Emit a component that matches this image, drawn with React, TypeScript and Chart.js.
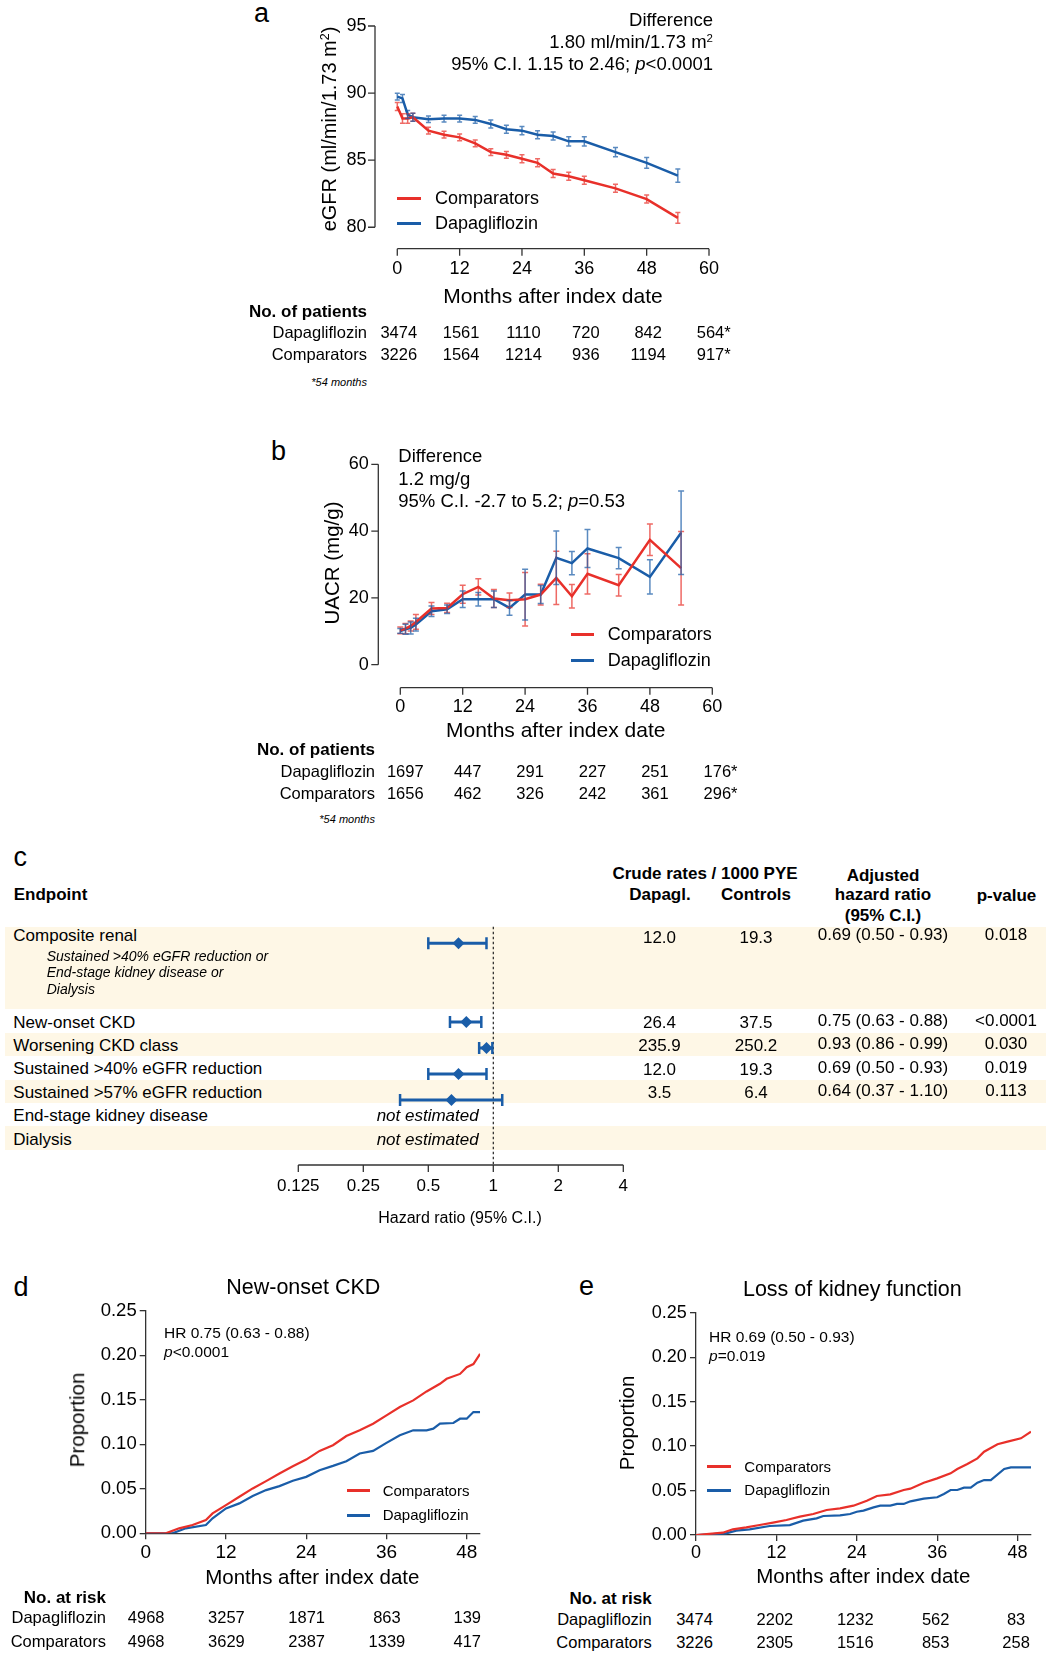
import React, { useEffect, useRef } from 'react';
import { Chart, registerables } from 'chart.js';

Chart.register(...registerables);

// ---------------- data ----------------
// Panel a: eGFR over time
const egfrMonths = [0, 1, 2, 3, 6, 9, 12, 15, 18, 21, 24, 27, 30, 33, 36, 42, 48, 54];
const egfrComparators = [89.0, 88.1, 88.1, 88.2, 87.2, 86.9, 86.7, 86.25, 85.6, 85.4, 85.1, 84.8, 84.0, 83.8, 83.5, 82.9, 82.1, 80.7];
const egfrComparatorsErr = [0.3, 0.35, 0.35, 0.3, 0.25, 0.25, 0.25, 0.25, 0.25, 0.25, 0.3, 0.3, 0.3, 0.3, 0.3, 0.3, 0.3, 0.4];
const egfrDapagliflozin = [89.74, 89.6, 88.4, 88.2, 88.05, 88.1, 88.1, 88.0, 87.7, 87.3, 87.2, 86.9, 86.8, 86.4, 86.4, 85.6, 84.8, 83.85];
const egfrDapagliflozinErr = [0.25, 0.3, 0.3, 0.3, 0.25, 0.25, 0.25, 0.25, 0.3, 0.3, 0.3, 0.3, 0.3, 0.35, 0.35, 0.35, 0.4, 0.5];
const egfrXTicks = [0, 12, 24, 36, 48, 60];
const egfrYTicks = [80, 85, 90, 95];
const egfrPatientsDapa = ['3474', '1561', '1110', '720', '842', '564'];
const egfrPatientsComp = ['3226', '1564', '1214', '936', '1194', '917'];

// Panel b: UACR over time
const uacrMonths = [0, 1, 2, 3, 6, 9, 12, 15, 18, 21, 24, 27, 30, 33, 36, 42, 48, 54];
const uacrComparators = [10.3, 10.8, 11.6, 12.8, 16.8, 17.0, 21.1, 23.3, 19.8, 19.3, 19.6, 21.0, 26.0, 20.5, 27.2, 23.8, 37.4, 28.9];
const uacrComparatorsErr = [1.0, 1.5, 1.5, 2.2, 1.8, 1.4, 2.7, 2.4, 2.7, 2.2, 8.0, 3.1, 8.0, 3.5, 6.0, 3.2, 4.7, 11.0];
const uacrDapagliflozin = [10.1, 10.6, 11.0, 12.0, 16.0, 16.6, 19.6, 19.6, 19.6, 17.0, 21.0, 21.0, 32.0, 30.4, 34.8, 31.9, 26.3, 39.5];
const uacrDapagliflozinErr = [0.7, 1.5, 1.8, 1.9, 1.6, 1.3, 2.5, 2.0, 2.5, 2.2, 7.6, 2.7, 8.0, 3.5, 5.7, 3.2, 5.1, 12.5];
const uacrXTicks = [0, 12, 24, 36, 48, 60];
const uacrYTicks = [0, 20, 40, 60];
const uacrPatientsDapa = ['1697', '447', '291', '227', '251', '176'];
const uacrPatientsComp = ['1656', '462', '326', '242', '361', '296'];

// Panel c: forest plot
const endpoints = [
  'Composite renal',
  'New-onset CKD',
  'Worsening CKD class',
  'Sustained >40% eGFR reduction',
  'Sustained >57% eGFR reduction',
  'End-stage kidney disease',
  'Dialysis',
];
const compositeDetail = ['Sustained >40% eGFR reduction or', 'End-stage kidney disease or', 'Dialysis'];
const hrPoint: (number | null)[] = [0.69, 0.75, 0.93, 0.69, 0.64, null, null];
const hrLow: (number | null)[] = [0.5, 0.63, 0.86, 0.5, 0.37, null, null];
const hrHigh: (number | null)[] = [0.93, 0.88, 0.99, 0.93, 1.1, null, null];
const rateDapagl: (number | null)[] = [12.0, 26.4, 235.9, 12.0, 3.5, null, null];
const rateControls: (number | null)[] = [19.3, 37.5, 250.2, 19.3, 6.4, null, null];
const pValues = ['0.018', '<0.0001', '0.030', '0.019', '0.113', '', ''];
const hrTicks = [0.125, 0.25, 0.5, 1, 2, 4];

// Panel d: new-onset CKD cumulative incidence
const newOnsetCompMonths = [0, 3, 5, 7, 9, 10, 12, 14, 16, 18, 20, 22, 24, 26, 28, 30, 32, 34, 36, 38, 40, 42, 44, 45, 47, 48, 49, 50];
const newOnsetCompValues = [0, 0, 0.0056, 0.0093, 0.015, 0.0224, 0.0317, 0.041, 0.0504, 0.0586, 0.0672, 0.0754, 0.0828, 0.0925, 0.0989, 0.1093, 0.1157, 0.1231, 0.1325, 0.1418, 0.1493, 0.1593, 0.1679, 0.1735, 0.179, 0.1866, 0.19, 0.2015];
const newOnsetDapaMonths = [0, 4, 6, 9, 10, 12, 14, 16, 18, 20, 22, 24, 26, 28, 30, 32, 34, 36, 38, 40, 42, 43, 44, 46, 47, 48, 49, 50];
const newOnsetDapaValues = [0, 0, 0.0056, 0.0093, 0.0168, 0.028, 0.0336, 0.0418, 0.0485, 0.053, 0.059, 0.0634, 0.0709, 0.0757, 0.081, 0.0896, 0.0925, 0.1015, 0.1101, 0.1157, 0.1157, 0.1175, 0.1231, 0.1239, 0.1287, 0.1287, 0.1362, 0.1362];
const newOnsetAtRiskDapa = ['4968', '3257', '1871', '863', '139'];
const newOnsetAtRiskComp = ['4968', '3629', '2387', '1339', '417'];

// Panel e: loss of kidney function cumulative incidence
const lossCompMonths = [0, 4, 5.5, 7.5, 9.5, 11.5, 13.5, 15.5, 17.5, 19.5, 21.5, 23.5, 25.5, 27, 29, 31, 32, 34, 36, 38, 39, 40.5, 42, 43, 45, 46.5, 48.5, 50];
const lossCompValues = [0, 0.0026, 0.0064, 0.0086, 0.0112, 0.0139, 0.0169, 0.0206, 0.0236, 0.0281, 0.03, 0.033, 0.0386, 0.0439, 0.0457, 0.0506, 0.0521, 0.0588, 0.0637, 0.0693, 0.0742, 0.0798, 0.0862, 0.0937, 0.102, 0.105, 0.1087, 0.1162];
const lossDapaMonths = [0, 4.5, 6, 8, 11, 14, 16, 18, 19, 21.5, 23, 24, 25, 26.5, 27.5, 29, 30, 31, 32, 34, 36, 37, 38, 39, 40, 41, 42, 43, 44, 46, 47, 50];
const lossDapaValues = [0, 0.0019, 0.0049, 0.0064, 0.0101, 0.0112, 0.0161, 0.0187, 0.0214, 0.0221, 0.0236, 0.0262, 0.0274, 0.0311, 0.033, 0.033, 0.0349, 0.0349, 0.0379, 0.0409, 0.0424, 0.0461, 0.0506, 0.0506, 0.0532, 0.0532, 0.0588, 0.0618, 0.0618, 0.0742, 0.0761, 0.0761];
const lossAtRiskDapa = ['3474', '2202', '1232', '562', '83'];
const lossAtRiskComp = ['3226', '2305', '1516', '853', '258'];

const kmXTicks = [0, 12, 24, 36, 48];
const kmYTicks = [0, 0.05, 0.1, 0.15, 0.2, 0.25];

// ---------------- styles / layout ----------------
const FF = '"Liberation Sans", Arial, Helvetica, sans-serif';
const RED = '#E8302A';
const BLUE = '#1A5DA8';
const RED_ERR = 'rgba(232,48,42,0.72)';
const BLUE_ERR = 'rgba(26,93,168,0.72)';
const AXIS = '#333333';
const BEIGE = '#FEF7E6';

Chart.defaults.font.family = FF;
Chart.defaults.color = '#000';

type Box = { L: number; T: number; W: number; H: number; cl: number; ct: number; cr: number; cb: number };
const BOX_A: Box = { L: 325, T: 6, W: 410, H: 300, cl: 375, ct: 26, cr: 709, cb: 248.7 };
const RANGE_A = { xmin: -4.29, xmax: 60, ymin: 78.4, ymax: 95 };
const BOX_B: Box = { L: 325, T: 441.5, W: 410, H: 300, cl: 378.3, ct: 463.8, cr: 712.3, cb: 687.2 };
const RANGE_B = { xmin: -4.23, xmax: 60, ymin: -6.89, ymax: 60 };
const BOX_C: Box = { L: 265, T: 915, W: 390, H: 300, cl: 298.3, ct: 926.7, cr: 623.3, cb: 1165 };
const BOX_D: Box = { L: 88, T: 1290, W: 415, H: 290, cl: 145.7, ct: 1310.7, cr: 480.1, cb: 1533.3 };
const BOX_E: Box = { L: 638, T: 1290, W: 408, H: 290, cl: 696, ct: 1312.7, cr: 1031, cb: 1535 };
const KM_XMAX = 50;

// panel c table layout
const C_TOP = 926.7;
const COMPOSITE_H = 82.6;
const ROW_H = 23.4;
const FOREST_GAP = 26;
const rowTop = (i: number) => (i === 0 ? C_TOP : C_TOP + COMPOSITE_H + (i - 1) * ROW_H);
const markerOffset = (i: number) => (i === 0 ? 16.5 : COMPOSITE_H + 12.7 + (i - 1) * FOREST_GAP);

const xPix = (b: Box, min: number, max: number, v: number) => b.cl + ((v - min) / (max - min)) * (b.cr - b.cl);
const pad = (b: Box) => ({ left: 0, top: b.ct - b.T, right: b.L + b.W - b.cr, bottom: 0 });

// ---------------- plugins ----------------
const errorBarPlugin = {
  id: 'errorBars',
  afterDatasetsDraw(chart: any) {
    const { ctx } = chart;
    const xs = chart.scales.x;
    const ys = chart.scales.y;
    chart.data.datasets.forEach((ds: any) => {
      if (!ds.errors) return;
      ctx.save();
      ctx.strokeStyle = ds.errorColor;
      ctx.lineWidth = 1.5;
      const cap = ds.capHalf || 2.5;
      ds.data.forEach((p: any, i: number) => {
        const x = xs.getPixelForValue(p.x);
        const y1 = ys.getPixelForValue(p.y - ds.errors[i]);
        const y2 = ys.getPixelForValue(p.y + ds.errors[i]);
        ctx.beginPath();
        ctx.moveTo(x, y1);
        ctx.lineTo(x, y2);
        ctx.moveTo(x - cap, y1);
        ctx.lineTo(x + cap, y1);
        ctx.moveTo(x - cap, y2);
        ctx.lineTo(x + cap, y2);
        ctx.stroke();
      });
      ctx.restore();
    });
  },
};

function offsetAxes(xTicks: number[], yTicks: number[]) {
  return {
    id: 'offsetAxes',
    afterDraw(chart: any) {
      const { ctx, chartArea } = chart;
      const x = chart.scales.x;
      const y = chart.scales.y;
      ctx.save();
      ctx.strokeStyle = AXIS;
      ctx.lineWidth = 1.3;
      ctx.beginPath();
      const ax = chartArea.left;
      ctx.moveTo(ax, y.getPixelForValue(yTicks[0]));
      ctx.lineTo(ax, y.getPixelForValue(yTicks[yTicks.length - 1]));
      yTicks.forEach((v) => {
        const p = y.getPixelForValue(v);
        ctx.moveTo(ax, p);
        ctx.lineTo(ax - 7, p);
      });
      const ay = chartArea.bottom;
      ctx.moveTo(x.getPixelForValue(xTicks[0]), ay);
      ctx.lineTo(x.getPixelForValue(xTicks[xTicks.length - 1]), ay);
      xTicks.forEach((v) => {
        const p = x.getPixelForValue(v);
        ctx.moveTo(p, ay);
        ctx.lineTo(p, ay + 7);
      });
      ctx.stroke();
      ctx.restore();
    },
  };
}

const forestPlugin = {
  id: 'forest',
  beforeDatasetsDraw(chart: any) {
    const { ctx, chartArea } = chart;
    const x = chart.scales.x;
    const y = chart.scales.y;
    ctx.save();
    // reference line at HR = 1
    ctx.strokeStyle = '#222';
    ctx.lineWidth = 1.2;
    ctx.setLineDash([2.5, 2.5]);
    const x1 = x.getPixelForValue(1);
    ctx.beginPath();
    ctx.moveTo(x1, chartArea.top);
    ctx.lineTo(x1, chartArea.bottom);
    ctx.stroke();
    ctx.setLineDash([]);
    // confidence intervals
    ctx.strokeStyle = BLUE;
    endpoints.forEach((_, i) => {
      const lo = hrLow[i];
      const hi = hrHigh[i];
      if (lo == null || hi == null) return;
      const py = y.getPixelForValue(markerOffset(i));
      const pl = x.getPixelForValue(lo);
      const ph = x.getPixelForValue(hi);
      ctx.lineWidth = 3;
      ctx.beginPath();
      ctx.moveTo(pl, py);
      ctx.lineTo(ph, py);
      ctx.stroke();
      ctx.lineWidth = 2.5;
      ctx.beginPath();
      ctx.moveTo(pl, py - 6);
      ctx.lineTo(pl, py + 6);
      ctx.moveTo(ph, py - 6);
      ctx.lineTo(ph, py + 6);
      ctx.stroke();
    });
    ctx.restore();
  },
  afterDraw(chart: any) {
    const { ctx, chartArea } = chart;
    const x = chart.scales.x;
    ctx.save();
    ctx.strokeStyle = AXIS;
    ctx.lineWidth = 1.3;
    ctx.beginPath();
    const ay = chartArea.bottom;
    ctx.moveTo(x.getPixelForValue(hrTicks[0]), ay);
    ctx.lineTo(x.getPixelForValue(hrTicks[hrTicks.length - 1]), ay);
    hrTicks.forEach((v) => {
      const p = x.getPixelForValue(v);
      ctx.moveTo(p, ay);
      ctx.lineTo(p, ay + 7);
    });
    ctx.stroke();
    ctx.restore();
  },
};

// ---------------- scale builders ----------------
function bareScale(min: number, max: number, ticks: number[], size: number, padding: number, fit: (s: any) => void, fmt: (v: any) => string, type = 'linear') {
  return {
    type,
    bounds: 'data',
    min,
    max,
    afterBuildTicks: (s: any) => {
      s.ticks = ticks.map((v) => ({ value: v }));
    },
    afterFit: fit,
    ticks: { padding, autoSkip: false, maxRotation: 0, minRotation: 0, color: '#000', font: { size, family: FF }, callback: fmt },
    grid: { display: false, drawTicks: false },
    border: { display: false },
  };
}

function kmScale(min: number, max: number, ticks: number[], size: number, padding: number, fit: (s: any) => void, fmt: (v: any) => string) {
  return {
    type: 'linear',
    bounds: 'data',
    min,
    max,
    afterBuildTicks: (s: any) => {
      s.ticks = ticks.map((v) => ({ value: v }));
    },
    afterFit: fit,
    ticks: { padding, autoSkip: false, maxRotation: 0, minRotation: 0, color: '#000', font: { size, family: FF }, callback: fmt },
    grid: { display: true, drawOnChartArea: false, drawTicks: true, tickLength: 6, color: AXIS, lineWidth: 1.3 },
    border: { display: true, color: AXIS, width: 1.3 },
  };
}

const baseOptions = (b: Box) => ({
  responsive: false,
  animation: false,
  events: [],
  layout: { padding: pad(b) },
  plugins: { legend: { display: false }, tooltip: { enabled: false }, title: { display: false } },
});

const series = (xs: number[], ys: number[]) => xs.map((x, i) => ({ x, y: ys[i] }));

// ---------------- chart configs ----------------
function makeA() {
  const b = BOX_A;
  return {
    type: 'line',
    data: {
      datasets: [
        { label: 'Comparators', data: series(egfrMonths, egfrComparators), borderColor: RED, borderWidth: 2.5, pointRadius: 0, tension: 0, errors: egfrComparatorsErr, errorColor: RED_ERR },
        { label: 'Dapagliflozin', data: series(egfrMonths, egfrDapagliflozin), borderColor: BLUE, borderWidth: 2.5, pointRadius: 0, tension: 0, errors: egfrDapagliflozinErr, errorColor: BLUE_ERR },
      ],
    },
    options: {
      ...baseOptions(b),
      scales: {
        x: bareScale(RANGE_A.xmin, RANGE_A.xmax, egfrXTicks, 18, 9.5, (s) => { s.height = b.T + b.H - b.cb; }, (v) => String(v)),
        y: bareScale(RANGE_A.ymin, RANGE_A.ymax, egfrYTicks, 18, 8.5, (s) => { s.width = b.cl - b.L; }, (v) => String(v)),
      },
    },
    plugins: [errorBarPlugin, offsetAxes(egfrXTicks, egfrYTicks)],
  };
}

function makeB() {
  const b = BOX_B;
  return {
    type: 'line',
    data: {
      datasets: [
        { label: 'Comparators', data: series(uacrMonths, uacrComparators), borderColor: RED, borderWidth: 2.5, pointRadius: 0, tension: 0, errors: uacrComparatorsErr, errorColor: RED_ERR, capHalf: 3 },
        { label: 'Dapagliflozin', data: series(uacrMonths, uacrDapagliflozin), borderColor: BLUE, borderWidth: 2.5, pointRadius: 0, tension: 0, errors: uacrDapagliflozinErr, errorColor: BLUE_ERR, capHalf: 3 },
      ],
    },
    options: {
      ...baseOptions(b),
      scales: {
        x: bareScale(RANGE_B.xmin, RANGE_B.xmax, uacrXTicks, 18, 8.5, (s) => { s.height = b.T + b.H - b.cb; }, (v) => String(v)),
        y: bareScale(RANGE_B.ymin, RANGE_B.ymax, uacrYTicks, 18, 9.5, (s) => { s.width = b.cl - b.L; }, (v) => String(v)),
      },
    },
    plugins: [errorBarPlugin, offsetAxes(uacrXTicks, uacrYTicks)],
  };
}

function makeC() {
  const b = BOX_C;
  const points: { x: number; y: number }[] = [];
  endpoints.forEach((_, i) => {
    const v = hrPoint[i];
    if (v != null) points.push({ x: v, y: markerOffset(i) });
  });
  return {
    type: 'scatter',
    data: { datasets: [{ label: 'Hazard ratio', data: points, pointStyle: 'rectRot', pointRadius: 6, backgroundColor: BLUE, borderColor: BLUE, borderWidth: 0 }] },
    options: {
      responsive: false,
      animation: false,
      events: [],
      layout: { padding: { left: b.cl - b.L, top: b.ct - b.T, right: b.L + b.W - b.cr, bottom: 0 } },
      plugins: { legend: { display: false }, tooltip: { enabled: false } },
      scales: {
        x: bareScale(hrTicks[0], hrTicks[hrTicks.length - 1], hrTicks, 17, 11.5, (s) => { s.height = b.T + b.H - b.cb; }, (v) => String(v), 'logarithmic'),
        y: { type: 'linear', display: false, reverse: true, min: 0, max: b.cb - b.ct },
      },
    },
    plugins: [forestPlugin],
  };
}

function makeKM(b: Box, cx: number[], cy: number[], dx: number[], dy: number[], yFont: number, xFont: number, yPad: number, xPad: number) {
  return {
    type: 'line',
    data: {
      datasets: [
        { label: 'Comparators', data: series(cx, cy), borderColor: RED, borderWidth: 2.2, pointRadius: 0, tension: 0 },
        { label: 'Dapagliflozin', data: series(dx, dy), borderColor: BLUE, borderWidth: 2.2, pointRadius: 0, tension: 0 },
      ],
    },
    options: {
      ...baseOptions(b),
      scales: {
        x: kmScale(0, KM_XMAX, kmXTicks, xFont, xPad, (s) => { s.height = b.T + b.H - b.cb; }, (v) => String(v)),
        y: kmScale(0, 0.25, kmYTicks, yFont, yPad, (s) => { s.width = b.cl - b.L; }, (v) => Number(v).toFixed(2)),
      },
    },
  };
}

const makeD = () => makeKM(BOX_D, newOnsetCompMonths, newOnsetCompValues, newOnsetDapaMonths, newOnsetDapaValues, 18.5, 19, 3, 2);
const makeE = () => makeKM(BOX_E, lossCompMonths, lossCompValues, lossDapaMonths, lossDapaValues, 18, 18, 3.3, 1.5);

// ---------------- components ----------------
function ChartCanvas({ box, make }: { box: Box; make: () => any }) {
  const ref = useRef<HTMLCanvasElement>(null);
  useEffect(() => {
    const chart = new Chart(ref.current as HTMLCanvasElement, make());
    return () => chart.destroy();
  }, []);
  return (
    <canvas
      ref={ref}
      width={box.W}
      height={box.H}
      style={{ position: 'absolute', left: box.L, top: box.T, width: box.W, height: box.H }}
    />
  );
}

type TxtProps = {
  x: number;
  y: number;
  align?: 'left' | 'center' | 'right';
  size?: number;
  bold?: boolean;
  italic?: boolean;
  rotate?: boolean;
  children: React.ReactNode;
};

function Txt({ x, y, align = 'left', size = 17, bold, italic, rotate, children }: TxtProps) {
  const tx = align === 'left' ? '0%' : align === 'center' ? '-50%' : '-100%';
  const transform = rotate ? 'translate(-50%, -50%) rotate(-90deg)' : `translate(${tx}, -50%)`;
  return (
    <div
      style={{
        position: 'absolute',
        left: x,
        top: y,
        transform,
        fontSize: size,
        fontWeight: bold ? 700 : 400,
        fontStyle: italic ? 'italic' : 'normal',
        whiteSpace: 'nowrap',
        lineHeight: 1.15,
        color: '#000',
        fontFamily: FF,
      }}
    >
      {children}
    </div>
  );
}

const Sup = ({ children }: { children: React.ReactNode }) => (
  <span style={{ fontSize: '0.62em', position: 'relative', top: '-0.55em' }}>{children}</span>
);

function LegLine({ x, y, w, color }: { x: number; y: number; w: number; color: string }) {
  return <div style={{ position: 'absolute', left: x, top: y - 1.5, width: w, height: 3, background: color }} />;
}

function CountRow({ b, min, max, ticks, values, y, dx, star }: { b: Box; min: number; max: number; ticks: number[]; values: string[]; y: number; dx: number; star?: boolean }) {
  return (
    <>
      {values.map((v, i) => (
        <div
          key={i}
          style={{
            position: 'absolute',
            left: xPix(b, min, max, ticks[i]) + dx,
            top: y,
            transform: 'translate(-50%, -50%)',
            fontSize: 16.5,
            lineHeight: 1.15,
            whiteSpace: 'nowrap',
            fontFamily: FF,
            color: '#000',
          }}
        >
          {v}
          {star && i === values.length - 1 ? <span style={{ position: 'absolute', left: '100%' }}>*</span> : null}
        </div>
      ))}
    </>
  );
}

export default function App() {
  const bandRows = [0, 2, 4, 6];
  return (
    <div style={{ position: 'absolute', left: 0, top: 0, width: 1046, height: 1653, background: '#fff', overflow: 'hidden', fontFamily: FF, color: '#000' }}>
      {/* panel c background bands */}
      {bandRows.map((i) => (
        <div
          key={i}
          style={{ position: 'absolute', left: 5, top: rowTop(i), width: 1041, height: i === 0 ? COMPOSITE_H : ROW_H, background: BEIGE }}
        />
      ))}

      <ChartCanvas box={BOX_A} make={makeA} />
      <ChartCanvas box={BOX_B} make={makeB} />
      <ChartCanvas box={BOX_C} make={makeC} />
      <ChartCanvas box={BOX_D} make={makeD} />
      <ChartCanvas box={BOX_E} make={makeE} />

      {/* ---------- panel a ---------- */}
      <Txt x={254} y={14} size={27}>a</Txt>
      <Txt x={329} y={129} size={20} rotate>
        eGFR (ml/min/1.73 m<Sup>2</Sup>)
      </Txt>
      <Txt x={713} y={20} size={18.5} align="right">Difference</Txt>
      <Txt x={713} y={42} size={18.5} align="right">
        1.80 ml/min/1.73 m<Sup>2</Sup>
      </Txt>
      <Txt x={713} y={64.3} size={18.5} align="right">
        95% C.I. 1.15 to 2.46; <i>p</i>&lt;0.0001
      </Txt>
      <LegLine x={397} y={198} w={24} color={RED} />
      <Txt x={435} y={198} size={18}>Comparators</Txt>
      <LegLine x={397} y={223} w={24} color={BLUE} />
      <Txt x={435} y={223} size={18}>Dapagliflozin</Txt>
      <Txt x={553} y={295.5} size={21} align="center">Months after index date</Txt>
      <Txt x={367} y={312} size={17} bold align="right">No. of patients</Txt>
      <Txt x={367} y={332} size={16.5} align="right">Dapagliflozin</Txt>
      <Txt x={367} y={354} size={16.5} align="right">Comparators</Txt>
      <CountRow b={BOX_A} min={RANGE_A.xmin} max={RANGE_A.xmax} ticks={egfrXTicks} values={egfrPatientsDapa} y={332} dx={1.5} star />
      <CountRow b={BOX_A} min={RANGE_A.xmin} max={RANGE_A.xmax} ticks={egfrXTicks} values={egfrPatientsComp} y={354} dx={1.5} star />
      <Txt x={367} y={382} size={11} italic align="right">*54 months</Txt>

      {/* ---------- panel b ---------- */}
      <Txt x={271} y={452} size={27}>b</Txt>
      <Txt x={331.7} y={562.5} size={20.5} rotate>UACR (mg/g)</Txt>
      <Txt x={398.3} y={456} size={18.5}>Difference</Txt>
      <Txt x={398.3} y={479.3} size={18.5}>1.2 mg/g</Txt>
      <Txt x={398.3} y={501} size={18.5}>
        95% C.I. -2.7 to 5.2; <i>p</i>=0.53
      </Txt>
      <LegLine x={570.7} y={634} w={23.5} color={RED} />
      <Txt x={607.7} y={634} size={18}>Comparators</Txt>
      <LegLine x={570.7} y={660} w={23.5} color={BLUE} />
      <Txt x={607.7} y={660} size={18}>Dapagliflozin</Txt>
      <Txt x={555.7} y={730} size={21} align="center">Months after index date</Txt>
      <Txt x={375} y={750} size={17} bold align="right">No. of patients</Txt>
      <Txt x={375} y={770.5} size={16.5} align="right">Dapagliflozin</Txt>
      <Txt x={375} y={792.7} size={16.5} align="right">Comparators</Txt>
      <CountRow b={BOX_B} min={RANGE_B.xmin} max={RANGE_B.xmax} ticks={uacrXTicks} values={uacrPatientsDapa} y={770.5} dx={5} star />
      <CountRow b={BOX_B} min={RANGE_B.xmin} max={RANGE_B.xmax} ticks={uacrXTicks} values={uacrPatientsComp} y={792.7} dx={5} star />
      <Txt x={375} y={819} size={11} italic align="right">*54 months</Txt>

      {/* ---------- panel c ---------- */}
      <Txt x={13.5} y={857.5} size={27}>c</Txt>
      <Txt x={705} y={874.3} size={17} bold align="center">Crude rates / 1000 PYE</Txt>
      <Txt x={883} y={876} size={17} bold align="center">Adjusted</Txt>
      <Txt x={13.7} y={895} size={17} bold>Endpoint</Txt>
      <Txt x={660} y={895} size={17} bold align="center">Dapagl.</Txt>
      <Txt x={756} y={895} size={17} bold align="center">Controls</Txt>
      <Txt x={883} y={895} size={17} bold align="center">hazard ratio</Txt>
      <Txt x={1006.5} y={896} size={17} bold align="center">p-value</Txt>
      <Txt x={883} y={916} size={17} bold align="center">(95% C.I.)</Txt>
      {endpoints.map((name, i) => {
        const ty = i === 0 ? rowTop(0) + 9.5 : rowTop(i) + 13.2;
        const lo = hrLow[i];
        const hi = hrHigh[i];
        const pt = hrPoint[i];
        const rd = rateDapagl[i];
        const rc = rateControls[i];
        return (
          <React.Fragment key={name}>
            <Txt x={13.3} y={ty} size={17}>{name}</Txt>
            {rd != null ? <Txt x={659.5} y={ty + (i === 0 ? 2 : 0.5)} size={17} align="center">{rd.toFixed(1)}</Txt> : null}
            {rc != null ? <Txt x={756} y={ty + (i === 0 ? 2 : 0.5)} size={17} align="center">{rc.toFixed(1)}</Txt> : null}
            {pt != null && lo != null && hi != null ? (
              <Txt x={883} y={ty - 1.5} size={17} align="center">
                {`${pt.toFixed(2)} (${lo.toFixed(2)} - ${hi.toFixed(2)})`}
              </Txt>
            ) : (
              <Txt x={478.7} y={ty} size={17} italic align="right">not estimated</Txt>
            )}
            {pValues[i] ? <Txt x={1006} y={ty - 1.5} size={17} align="center">{pValues[i]}</Txt> : null}
          </React.Fragment>
        );
      })}
      {compositeDetail.map((line, k) => (
        <Txt key={line} x={46.7} y={955.5 + k * 16.5} size={14} italic>{line}</Txt>
      ))}
      <Txt x={460} y={1218} size={16} align="center">Hazard ratio (95% C.I.)</Txt>

      {/* ---------- panel d ---------- */}
      <Txt x={13.5} y={1287.5} size={27}>d</Txt>
      <Txt x={303.3} y={1286.7} size={21.5} align="center">New-onset CKD</Txt>
      <Txt x={76.7} y={1420} size={20.5} rotate>Proportion</Txt>
      <Txt x={164} y={1332.7} size={15.5}>HR 0.75 (0.63 - 0.88)</Txt>
      <Txt x={164} y={1351.7} size={15.5}>
        <i>p</i>&lt;0.0001
      </Txt>
      <LegLine x={346.7} y={1490.7} w={23.5} color={RED} />
      <Txt x={382.7} y={1490.7} size={15}>Comparators</Txt>
      <LegLine x={346.7} y={1515} w={23.5} color={BLUE} />
      <Txt x={382.7} y={1515} size={15}>Dapagliflozin</Txt>
      <Txt x={312.3} y={1577.3} size={20.5} align="center">Months after index date</Txt>
      <Txt x={106} y={1597.7} size={17} bold align="right">No. at risk</Txt>
      <Txt x={106} y={1617.3} size={16.5} align="right">Dapagliflozin</Txt>
      <Txt x={106} y={1640.7} size={16.5} align="right">Comparators</Txt>
      <CountRow b={BOX_D} min={0} max={KM_XMAX} ticks={kmXTicks} values={newOnsetAtRiskDapa} y={1617.3} dx={0.5} />
      <CountRow b={BOX_D} min={0} max={KM_XMAX} ticks={kmXTicks} values={newOnsetAtRiskComp} y={1640.7} dx={0.5} />

      {/* ---------- panel e ---------- */}
      <Txt x={579} y={1287} size={27}>e</Txt>
      <Txt x={852.3} y={1289.3} size={21.5} align="center">Loss of kidney function</Txt>
      <Txt x={627.3} y={1423.3} size={20.5} rotate>Proportion</Txt>
      <Txt x={709} y={1337.3} size={15.5}>HR 0.69 (0.50 - 0.93)</Txt>
      <Txt x={709} y={1355.7} size={15.5}>
        <i>p</i>=0.019
      </Txt>
      <LegLine x={706.7} y={1466.7} w={24} color={RED} />
      <Txt x={744.3} y={1466.7} size={15}>Comparators</Txt>
      <LegLine x={706.7} y={1490} w={24} color={BLUE} />
      <Txt x={744.3} y={1490} size={15}>Dapagliflozin</Txt>
      <Txt x={863.3} y={1576} size={20.5} align="center">Months after index date</Txt>
      <Txt x={651.7} y={1599} size={17} bold align="right">No. at risk</Txt>
      <Txt x={651.7} y={1619} size={16.5} align="right">Dapagliflozin</Txt>
      <Txt x={651.7} y={1641.7} size={16.5} align="right">Comparators</Txt>
      <CountRow b={BOX_E} min={0} max={KM_XMAX} ticks={kmXTicks} values={lossAtRiskDapa} y={1619} dx={-1.5} />
      <CountRow b={BOX_E} min={0} max={KM_XMAX} ticks={kmXTicks} values={lossAtRiskComp} y={1641.7} dx={-1.5} />
    </div>
  );
}
